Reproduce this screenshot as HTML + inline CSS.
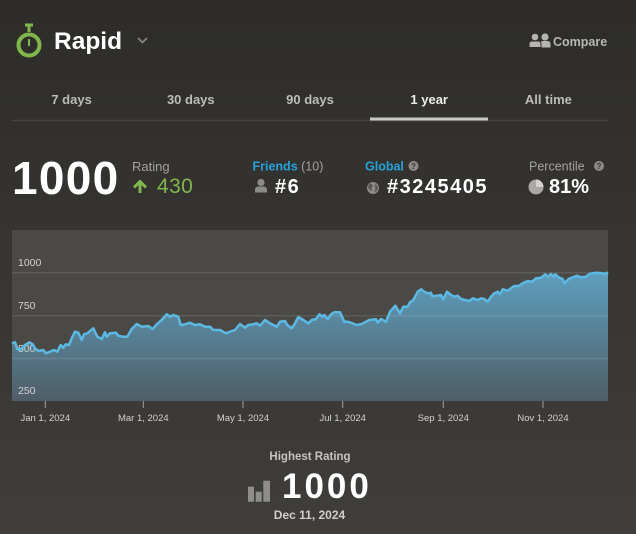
<!DOCTYPE html>
<html>
<head>
<meta charset="utf-8">
<style>
html,body{margin:0;padding:0;width:636px;height:534px;overflow:hidden;background:#363532;}
svg{display:block;font-family:"Liberation Sans",Arial,sans-serif;}
</style>
</head>
<body>
<svg width="636" height="534" viewBox="0 0 636 534" xmlns="http://www.w3.org/2000/svg">
<defs>
<linearGradient id="bg" x1="0" y1="0" x2="0" y2="534" gradientUnits="userSpaceOnUse">
<stop offset="0" stop-color="#2d2c29"/>
<stop offset="1" stop-color="#403e3b"/>
</linearGradient>
<linearGradient id="area" x1="0" y1="272" x2="0" y2="401" gradientUnits="userSpaceOnUse">
<stop offset="0" stop-color="#5e9fbf"/>
<stop offset="1" stop-color="#4f5e67"/>
</linearGradient>
</defs>
<rect x="0" y="0" width="636" height="534" fill="url(#bg)"/>

<!-- Header -->
<circle cx="29" cy="45" r="10.5" fill="none" stroke="#81b64c" stroke-width="4"/>
<rect x="25" y="23.5" width="8" height="3" fill="#81b64c"/>
<rect x="27.5" y="25" width="3" height="7" fill="#81b64c"/>
<line x1="29" y1="39" x2="29" y2="46" stroke="#81b64c" stroke-width="2"/>
<text x="54" y="49" font-size="24.5" font-weight="bold" fill="#ffffff">Rapid</text>
<polyline points="138,38 142.5,42.5 147,38" fill="none" stroke="#8a8987" stroke-width="1.6"/>

<!-- Compare icon -->
<circle cx="545" cy="37" r="3.6" fill="#b5b4b2"/>
<path d="M539.5,47.5 L539.5,44 Q539.5,41 542.5,41 L547.5,41 Q550.5,41 550.5,44 L550.5,47.5 Z" fill="#b5b4b2"/>
<circle cx="535" cy="37" r="3.8" fill="#b5b4b2" stroke="#2e2d2a" stroke-width="1"/>
<path d="M529,47.5 L529,44 Q529,41 532,41 L538,41 Q541,41 541,44 L541,47.5 Z" fill="#b5b4b2" stroke="#2e2d2a" stroke-width="1"/>
<text x="553" y="46" font-size="12.5" font-weight="bold" fill="#b8b7b5">Compare</text>

<!-- Tabs -->
<g font-size="13" font-weight="bold" text-anchor="middle" fill="#bdbcba">
<text x="71.6" y="104">7 days</text>
<text x="190.8" y="104">30 days</text>
<text x="310" y="104">90 days</text>
<text x="429.2" y="104" fill="#ececec">1 year</text>
<text x="548.4" y="104">All time</text>
</g>
<line x1="12" y1="120.5" x2="608" y2="120.5" stroke="#464440" stroke-width="1.5"/>
<rect x="370" y="117.5" width="118" height="3" fill="#c9c9c9"/>

<!-- Stats -->
<text x="12" y="194" font-size="46" font-weight="bold" fill="#ffffff" letter-spacing="1.3">1000</text>
<text x="132" y="171" font-size="13" fill="#a3a2a0">Rating</text>
<line x1="140" y1="193" x2="140" y2="182" stroke="#81b64c" stroke-width="3"/>
<polyline points="134,187.5 140,181.5 146,187.5" fill="none" stroke="#81b64c" stroke-width="3"/>
<text x="157" y="193" font-size="21" fill="#81b64c" letter-spacing="0.4">430</text>

<text x="252.5" y="170.5" font-size="12.5"><tspan font-weight="bold" fill="#26a3dc">Friends</tspan><tspan fill="#a3a2a0"> (10)</tspan></text>
<circle cx="261" cy="182.5" r="3.6" fill="#8c8b89"/>
<path d="M255,192.5 L255,190 Q255,186.5 258.5,186.5 L263.5,186.5 Q267,186.5 267,190 L267,192.5 Z" fill="#8c8b89"/>
<text x="275" y="193" font-size="20" font-weight="bold" fill="#ffffff" letter-spacing="1.5">#6</text>

<text x="365" y="170.5" font-size="12.5" font-weight="bold" fill="#26a3dc">Global</text>
<circle cx="413.5" cy="166" r="5" fill="#8c8b89"/>
<text x="413.5" y="169" font-size="8" font-weight="bold" fill="#353431" text-anchor="middle">?</text>
<circle cx="373" cy="188" r="6" fill="#8c8b89"/>
<path d="M369,184 Q372,183 373,186 Q371,188 372,191 Q369,190 368,187 Z M375,184 Q378,185 378,189 Q376,192 374,192 Q376,189 375,187 Z" fill="#5b5a57"/>
<text x="387" y="193" font-size="20" font-weight="bold" fill="#ffffff" letter-spacing="1.5">#3245405</text>

<text x="529" y="170.5" font-size="12.5" fill="#a3a2a0">Percentile</text>
<circle cx="599" cy="166" r="5" fill="#8c8b89"/>
<text x="599" y="169" font-size="8" font-weight="bold" fill="#353431" text-anchor="middle">?</text>
<circle cx="536" cy="187" r="7.5" fill="#a9a8a6"/>
<path d="M536,187 L536,179.5 A7.5,7.5 0 0 1 543.5,187 Z" fill="#d4d3d1"/>
<text x="549" y="193" font-size="20" font-weight="bold" fill="#ffffff">81%</text>

<!-- Chart -->
<rect x="12" y="230" width="596" height="171" fill="#4b4945"/>
<path d="M12,343.3 L15,342.3 L17.3,349 L20,350 L25,345 L29.3,342.3 L32.7,344.3 L35,348.3 L38.3,351 L43.3,350 L46,353.3 L50,351.7 L54,350 L57.3,351.7 L60.7,345 L63.3,347.7 L65.7,344.3 L69,345 L71.7,338.3 L75,331.7 L78.3,332.7 L81.7,340 L84,334.3 L87.3,333.3 L93.3,328.3 L97.3,336.7 L101.7,339 L105,332.3 L106.7,336.7 L110,333.3 L116,332.7 L118.3,335.7 L123.3,336.7 L127.3,336.7 L131.7,329 L136.7,324 L141.7,326.7 L148.3,326 L152.7,329 L156.7,324.3 L161.7,320 L166.7,314.3 L170,316.7 L173.3,315 L178.3,316.7 L180.7,325 L185,324.3 L190,322.7 L195,325 L200,324.3 L205,326.7 L210,326.7 L213.3,330 L220,330 L226,333.3 L230,331.7 L235,330 L240,324 L245,327.7 L248.3,325 L253.3,324.3 L256.7,323.3 L260,325.7 L265,320 L270,323.3 L273.3,325 L276.7,326.7 L280,321.7 L285,321 L287.3,325 L291.7,328.3 L295,323.3 L298.3,317 L303.3,320 L308.3,323.3 L311.7,320 L316,319 L319.3,314.3 L322.7,316.7 L324.3,315 L327.7,319 L331,314.3 L334.3,312.3 L340,312.3 L344.3,321.7 L347.7,321.7 L352.7,323.3 L356,325 L361,324.3 L366,321.7 L369.3,320 L376,319.3 L377.7,322.7 L381,319 L386,321.7 L390,311.7 L395.3,305.7 L400,313.3 L403.3,306.7 L407.7,306.7 L410,302.3 L413.3,300 L417.7,291.7 L421,289.3 L424.3,291.7 L427.7,293.3 L431,292.7 L432,296 L436.7,295.7 L441,295 L443.3,299.3 L447,291.7 L451,295 L454.3,296.7 L457.7,295.7 L461,299 L465.3,300 L469.3,301 L472.7,298.3 L477.7,300 L481,298.3 L484.3,299 L487.7,301.7 L491,296.7 L494.3,293.3 L497.7,291.7 L500,294.3 L502.7,289.3 L507.7,290.7 L511,288.3 L514.3,286 L518.7,286 L522.7,283.3 L527.7,281 L532,281.7 L536,278.3 L541,277.7 L545.3,274.3 L547.7,276.7 L551,274 L553.3,276.7 L555.3,274.3 L559.3,277.7 L562.7,279 L564.3,283.3 L568.7,279 L572.7,277.3 L577,275.7 L581,277.3 L586,276.7 L589.3,274 L596,272.7 L602.7,273.3 L605.3,274 L608,272.3 L608,401 L12,401 Z" fill="url(#area)"/>
<g stroke="#ffffff" stroke-opacity="0.1" stroke-width="1.5">
<line x1="12" y1="272.7" x2="608" y2="272.7"/>
<line x1="12" y1="315.7" x2="608" y2="315.7"/>
<line x1="12" y1="358.5" x2="608" y2="358.5"/>
</g>
<g font-size="10.5" fill="#d2d1cf">
<text x="18" y="266">1000</text>
<text x="18" y="309">750</text>
<text x="18" y="352">500</text>
<text x="18" y="394">250</text>
</g>
<path d="M12,343.3 L15,342.3 L17.3,349 L20,350 L25,345 L29.3,342.3 L32.7,344.3 L35,348.3 L38.3,351 L43.3,350 L46,353.3 L50,351.7 L54,350 L57.3,351.7 L60.7,345 L63.3,347.7 L65.7,344.3 L69,345 L71.7,338.3 L75,331.7 L78.3,332.7 L81.7,340 L84,334.3 L87.3,333.3 L93.3,328.3 L97.3,336.7 L101.7,339 L105,332.3 L106.7,336.7 L110,333.3 L116,332.7 L118.3,335.7 L123.3,336.7 L127.3,336.7 L131.7,329 L136.7,324 L141.7,326.7 L148.3,326 L152.7,329 L156.7,324.3 L161.7,320 L166.7,314.3 L170,316.7 L173.3,315 L178.3,316.7 L180.7,325 L185,324.3 L190,322.7 L195,325 L200,324.3 L205,326.7 L210,326.7 L213.3,330 L220,330 L226,333.3 L230,331.7 L235,330 L240,324 L245,327.7 L248.3,325 L253.3,324.3 L256.7,323.3 L260,325.7 L265,320 L270,323.3 L273.3,325 L276.7,326.7 L280,321.7 L285,321 L287.3,325 L291.7,328.3 L295,323.3 L298.3,317 L303.3,320 L308.3,323.3 L311.7,320 L316,319 L319.3,314.3 L322.7,316.7 L324.3,315 L327.7,319 L331,314.3 L334.3,312.3 L340,312.3 L344.3,321.7 L347.7,321.7 L352.7,323.3 L356,325 L361,324.3 L366,321.7 L369.3,320 L376,319.3 L377.7,322.7 L381,319 L386,321.7 L390,311.7 L395.3,305.7 L400,313.3 L403.3,306.7 L407.7,306.7 L410,302.3 L413.3,300 L417.7,291.7 L421,289.3 L424.3,291.7 L427.7,293.3 L431,292.7 L432,296 L436.7,295.7 L441,295 L443.3,299.3 L447,291.7 L451,295 L454.3,296.7 L457.7,295.7 L461,299 L465.3,300 L469.3,301 L472.7,298.3 L477.7,300 L481,298.3 L484.3,299 L487.7,301.7 L491,296.7 L494.3,293.3 L497.7,291.7 L500,294.3 L502.7,289.3 L507.7,290.7 L511,288.3 L514.3,286 L518.7,286 L522.7,283.3 L527.7,281 L532,281.7 L536,278.3 L541,277.7 L545.3,274.3 L547.7,276.7 L551,274 L553.3,276.7 L555.3,274.3 L559.3,277.7 L562.7,279 L564.3,283.3 L568.7,279 L572.7,277.3 L577,275.7 L581,277.3 L586,276.7 L589.3,274 L596,272.7 L602.7,273.3 L605.3,274 L608,272.3" fill="none" stroke="#5cb9e3" stroke-width="2.5" stroke-linejoin="round"/>

<g stroke="#a09f9d" stroke-width="1">
<line x1="45.3" y1="401" x2="45.3" y2="408"/>
<line x1="143.3" y1="401" x2="143.3" y2="408"/>
<line x1="243" y1="401" x2="243" y2="408"/>
<line x1="342.7" y1="401" x2="342.7" y2="408"/>
<line x1="443.3" y1="401" x2="443.3" y2="408"/>
<line x1="543" y1="401" x2="543" y2="408"/>
</g>
<g font-size="9.5" fill="#d2d1cf" text-anchor="middle">
<text x="45.3" y="421">Jan 1, 2024</text>
<text x="143.3" y="421">Mar 1, 2024</text>
<text x="243" y="421">May 1, 2024</text>
<text x="342.7" y="421">Jul 1, 2024</text>
<text x="443.3" y="421">Sep 1, 2024</text>
<text x="543" y="421">Nov 1, 2024</text>
</g>

<!-- Highest rating -->
<text x="310" y="460" font-size="11.5" font-weight="bold" fill="#c5c4c2" text-anchor="middle">Highest Rating</text>
<rect x="248" y="486.7" width="6" height="15" fill="#8f8e8c"/>
<rect x="255.7" y="491.7" width="6" height="10" fill="#8f8e8c"/>
<rect x="263.3" y="480.7" width="6.7" height="21" fill="#8f8e8c"/>
<text x="282" y="498" font-size="35" font-weight="bold" fill="#ffffff" letter-spacing="3">1000</text>
<text x="309.5" y="519" font-size="12" font-weight="bold" fill="#d0cfcd" text-anchor="middle">Dec 11, 2024</text>
</svg>
</body>
</html>
